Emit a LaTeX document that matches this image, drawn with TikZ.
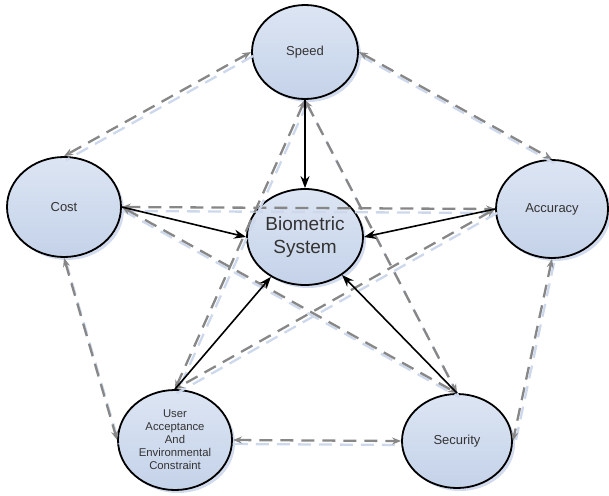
\documentclass[tikz,border=0pt]{standalone}
\usepackage{fontspec}
\setmainfont{Liberation Sans}
\usetikzlibrary{shapes.geometric,arrows.meta,shadows}
\definecolor{fillA}{HTML}{DCE5F3}
\definecolor{fillB}{HTML}{C4D2E9}
\definecolor{shadowblue}{HTML}{CDD8EC}
\definecolor{dashgray}{HTML}{878787}
\definecolor{txt}{HTML}{333333}
\tikzset{
  factor/.style={ellipse, draw=black, line width=1.8pt, inner sep=0pt,
    top color=fillA, bottom color=fillB, text=txt,
    drop shadow={shadow xshift=3pt, shadow yshift=-3pt, fill=shadowblue, opacity=0.9},
    font=\fontsize{13}{15}\selectfont, align=center},
  rel/.style={dashgray, line width=2.3pt, dash pattern=on 13pt off 8pt,
    {Stealth[length=9pt,width=7pt]}-{Stealth[length=9pt,width=7pt]},
    preaction={draw=shadowblue, line width=2.3pt, dash pattern=on 13pt off 8pt, arrows=-,
      transform canvas={xshift=2pt,yshift=-4pt}}},
  infl/.style={black, line width=1.6pt, -{Stealth[length=12pt,width=9pt]}}
}
\begin{document}
\begin{tikzpicture}[x=1pt,y=-1pt]
\useasboundingbox (0,0) rectangle (609,495);
\node[factor, minimum width=106pt, minimum height=94pt] (speed) at (305,52) {Speed};
\node[factor, minimum width=114pt, minimum height=100pt] (cost) at (64,207) {Cost};
\node[factor, minimum width=112pt, minimum height=98pt] (acc) at (552,209) {Accuracy};
\node[factor, minimum width=116pt, minimum height=96pt, font=\fontsize{19}{23}\selectfont] (bio) at (305,237) {Biometric\\System};
\node[factor, minimum width=114pt, minimum height=100pt, font=\fontsize{11.3}{13}\selectfont] (user) at (175,440) {User\\Acceptance\\And\\Environmental\\Constraint};
\node[factor, minimum width=110pt, minimum height=94pt] (sec) at (457,441) {Security};

\draw[rel] (speed.west) -- (cost.north);
\draw[rel] (speed.east) -- (acc.north);
\draw[rel] (cost.east) -- (acc.west);
\draw[rel] (cost.south) -- (user.west);
\draw[rel] (acc.south) -- (sec.east);
\draw[rel] (user.east) -- (sec.west);
\draw[rel] (speed.south) -- (user.north);
\draw[rel] (speed.south) -- (sec.north);
\draw[rel] (cost.east) -- (sec.north);
\draw[rel] (acc.west) -- (user.north);

\draw[infl] (speed.south) -- (bio.north);
\draw[infl] (cost.east) -- (bio.west);
\draw[infl] (acc.west) -- (bio.east);
\draw[infl] (user.north) -- (bio);
\draw[infl] (sec.north) -- (bio);
\end{tikzpicture}
\end{document}
